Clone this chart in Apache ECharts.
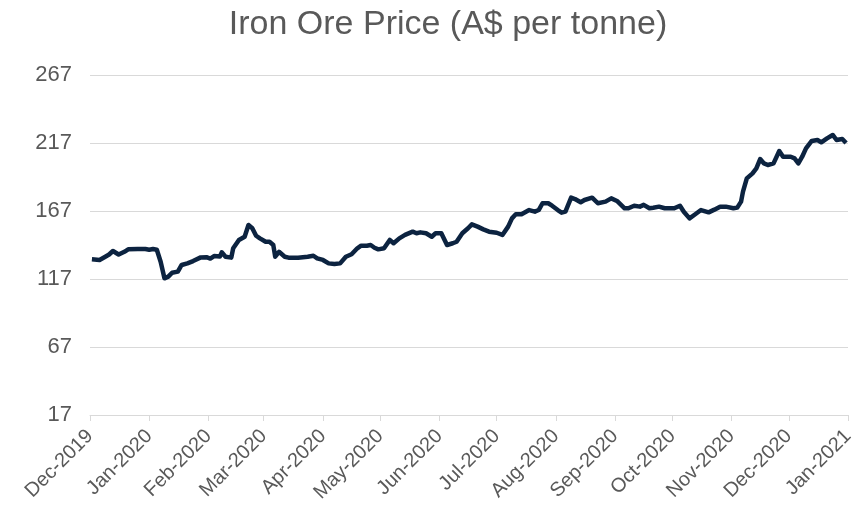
<!DOCTYPE html>
<html>
<head>
<meta charset="utf-8">
<script src="https://cdn.jsdelivr.net/npm/echarts@6/dist/echarts.min.js"></script>
<style>
  html, body { margin: 0; padding: 0; background: #fff; }
  #main { width: 863px; height: 513px; }
</style>
</head>
<body>
<div id="main"></div>
<script>
// price data (A$ per tonne)
var dates = [
  '2019-12-02','2019-12-06','2019-12-09','2019-12-11','2019-12-13','2019-12-16','2019-12-19','2019-12-21','2019-12-26','2019-12-30',
  '2020-01-01','2020-01-03','2020-01-05','2020-01-06','2020-01-07','2020-01-09','2020-01-11','2020-01-13','2020-01-16','2020-01-18',
  '2020-01-21','2020-01-24','2020-01-28','2020-01-31','2020-02-02','2020-02-04','2020-02-07','2020-02-08','2020-02-10','2020-02-13',
  '2020-02-14','2020-02-17','2020-02-20','2020-02-22','2020-02-24','2020-02-26','2020-02-28','2020-03-02','2020-03-04','2020-03-06',
  '2020-03-07','2020-03-09','2020-03-12','2020-03-14','2020-03-19','2020-03-20','2020-03-24','2020-03-27','2020-03-29','2020-04-01',
  '2020-04-04','2020-04-07','2020-04-10','2020-04-11','2020-04-13','2020-04-16','2020-04-19','2020-04-21','2020-04-24','2020-04-26',
  '2020-04-28','2020-04-30','2020-05-03','2020-05-06','2020-05-08','2020-05-11','2020-05-14','2020-05-15','2020-05-18','2020-05-20',
  '2020-05-22','2020-05-25','2020-05-28','2020-05-30','2020-06-02','2020-06-03','2020-06-05','2020-06-08','2020-06-10','2020-06-13',
  '2020-06-16','2020-06-18','2020-06-21','2020-06-24','2020-06-27','2020-07-01','2020-07-04','2020-07-07','2020-07-09','2020-07-11',
  '2020-07-14','2020-07-18','2020-07-21','2020-07-23','2020-07-25','2020-07-28','2020-07-30','2020-08-02','2020-08-04','2020-08-06',
  '2020-08-09','2020-08-11','2020-08-12','2020-08-14','2020-08-16','2020-08-20','2020-08-23','2020-08-27','2020-08-30','2020-09-02',
  '2020-09-06','2020-09-08','2020-09-11','2020-09-14','2020-09-16','2020-09-19','2020-09-21','2020-09-24','2020-09-27','2020-09-29',
  '2020-10-02','2020-10-05','2020-10-07','2020-10-10','2020-10-13','2020-10-16','2020-10-20','2020-10-23','2020-10-26','2020-10-29',
  '2020-10-30','2020-11-02','2020-11-04','2020-11-06','2020-11-07','2020-11-09','2020-11-12','2020-11-14','2020-11-16','2020-11-18',
  '2020-11-20','2020-11-23','2020-11-26','2020-11-28','2020-12-02','2020-12-04','2020-12-06','2020-12-08','2020-12-10','2020-12-13',
  '2020-12-16','2020-12-18','2020-12-21','2020-12-24','2020-12-26','2020-12-29','2020-12-30','2020-12-31'
];
var prices = [
  131.5,131,133.4,135,137.6,135,137,138.8,139,139,
  138.5,139,138.5,139,129.7,117.5,118.7,121.6,122.4,127.3,
  128.5,130.2,132.9,133,132,133.9,133.5,136.6,133.4,132.7,
  139.6,145.7,148.1,156.7,154.3,148.8,146.9,144.4,144.4,142,
  133.4,137,133.4,132.7,132.7,134.1,133.4,134.1,132.2,131,
  128.5,128,128.5,129.7,133.4,135.2,139.6,141.5,141.5,142,
  140,138.8,139.6,145.7,143.3,146.9,149.4,148.1,151.8,150.6,
  151.3,150.6,148.1,150.6,150.6,149.4,142,143.3,144.4,150.6,
  154.3,157.2,155.5,153.5,151.8,151,149.4,155.5,161.6,164.6,
  164.6,167.7,166.5,167.7,172.7,172.7,170.9,167.7,165.8,166.5,
  176.8,175.8,176.8,173.4,175.1,176.8,172.7,173.9,176.3,174.4,
  169,169,170.9,170.2,171.5,169,169.4,170.2,169,169,
  169,170.9,166.5,161.6,164.6,167.7,166,168,170.2,170.2,
  169,169,169.5,173.9,181.2,191,194.7,198.4,205.2,202,
  200.8,202,211.1,206.9,206.9,205.7,202,206.9,213.1,218.5,
  219.2,217.5,220.4,222.9,219.2,220,219.5,217
];
var yTicks = [17, 67, 117, 167, 217, 267];

var chart = echarts.init(document.getElementById('main'));

chart.setOption({
  animation: false,
  title: {
    text: 'Iron Ore Price (A$ per tonne)',
    left: 443,
    textAlign: 'center',
    top: 3,
    textStyle: { fontFamily: 'Liberation Sans', fontSize: 34, fontWeight: 'normal', color: '#595959' }
  },
  grid: { left: 90, right: 15, top: 75, bottom: 98 },
  xAxis: {
    type: 'time',
    min: '2019-12-01',
    max: '2021-01-01',
    splitNumber: 13,
    axisLine: { lineStyle: { color: '#d9d9d9', width: 1 } },
    axisTick: { show: true, length: 6, lineStyle: { color: '#d9d9d9' } },
    splitLine: { show: false },
    axisLabel: {
      rotate: 45,
      interval: 0,
      hideOverlap: false,
      showMinLabel: true,
      showMaxLabel: true,
      margin: 18,
      color: '#595959',
      fontFamily: 'Liberation Sans',
      fontSize: 20,
      formatter: function (v) {
        return echarts.time.format(v, '{MMM}-{yyyy}', false);
      }
    }
  },
  yAxis: {
    type: 'value',
    min: yTicks[0],
    max: yTicks[yTicks.length - 1],
    interval: 50,
    axisLine: { show: false },
    axisTick: { show: false },
    splitLine: { lineStyle: { color: '#d9d9d9', width: 1 } },
    axisLabel: { color: '#595959', fontFamily: 'Liberation Sans', fontSize: 22, margin: 18 }
  },
  series: [{
    type: 'line',
    data: dates.map(function (d, i) { return [d, prices[i]]; }),
    showSymbol: false,
    lineStyle: { color: '#0c2340', width: 4.5, join: 'round' }
  }]
});
</script>
</body>
</html>
